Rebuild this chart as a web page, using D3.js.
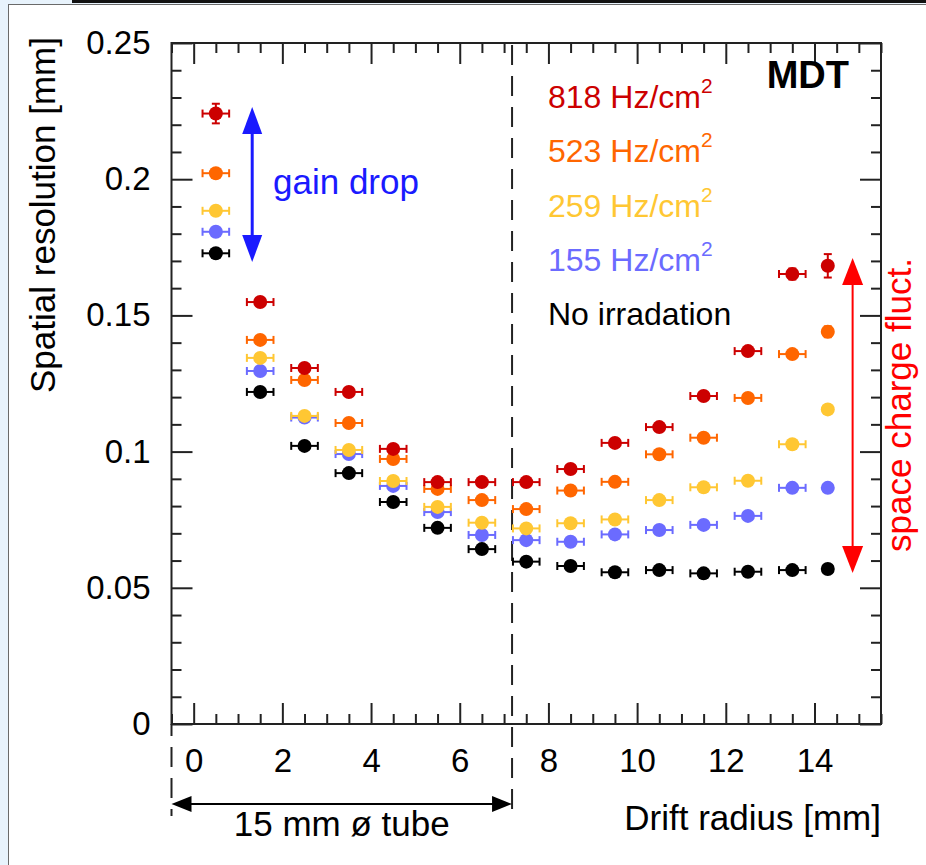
<!DOCTYPE html>
<html>
<head>
<meta charset="utf-8">
<script src="https://cdn.jsdelivr.net/npm/d3@7/dist/d3.min.js"></script>
<style>
  html, body { margin: 0; padding: 0; background: #e8f3fc; }
  svg { display: block; }
</style>
</head>
<body>
<script>
// ---------------- DATA ----------------
const driftRadius = [0.5, 1.5, 2.5, 3.5, 4.5, 5.5, 6.5, 7.5, 8.5, 9.5, 10.5, 11.5, 12.5, 13.5, 14.3];
const radiusHalfWidth = [0.3, 0.3, 0.3, 0.3, 0.3, 0.3, 0.3, 0.3, 0.3, 0.3, 0.3, 0.3, 0.3, 0.3, 0.1];

const res818 = [0.2241, 0.1549, 0.1307, 0.1219, 0.1010, 0.0888, 0.0888, 0.0888, 0.0936, 0.1032, 0.1090, 0.1204, 0.1369, 0.1652, 0.1682];
const err818 = [0.0036, 0.0015, 0.0012, 0.0010, 0.0010, 0.0010, 0.0010, 0.0010, 0.0010, 0.0010, 0.0010, 0.0012, 0.0015, 0.0020, 0.0043];
const res523 = [0.2022, 0.1410, 0.1263, 0.1105, 0.0973, 0.0863, 0.0822, 0.0789, 0.0857, 0.0889, 0.0990, 0.1051, 0.1197, 0.1358, 0.1440];
const err523 = [0.0015, 0.0010, 0.0010, 0.0010, 0.0010, 0.0010, 0.0010, 0.0010, 0.0010, 0.0010, 0.0010, 0.0010, 0.0010, 0.0012, 0.0020];
const res259 = [0.1884, 0.1344, 0.1131, 0.1006, 0.0892, 0.0797, 0.0739, 0.0718, 0.0737, 0.0751, 0.0822, 0.0869, 0.0893, 0.1027, 0.1155];
const err259 = [0.0010, 0.0010, 0.0010, 0.0010, 0.0010, 0.0010, 0.0010, 0.0010, 0.0010, 0.0010, 0.0010, 0.0010, 0.0010, 0.0010, 0.0010];
const res155 = [0.1807, 0.1296, 0.1125, 0.0991, 0.0874, 0.0778, 0.0694, 0.0675, 0.0669, 0.0696, 0.0712, 0.0731, 0.0764, 0.0867, 0.0867];
const err155 = [0.0010, 0.0010, 0.0010, 0.0010, 0.0010, 0.0010, 0.0010, 0.0010, 0.0010, 0.0010, 0.0010, 0.0010, 0.0010, 0.0010, 0.0010];
const res0   = [0.1728, 0.1219, 0.1021, 0.0921, 0.0815, 0.0720, 0.0642, 0.0596, 0.0580, 0.0557, 0.0565, 0.0553, 0.0559, 0.0565, 0.0569];
const err0   = [0.0010, 0.0010, 0.0010, 0.0010, 0.0010, 0.0010, 0.0010, 0.0010, 0.0010, 0.0010, 0.0010, 0.0010, 0.0010, 0.0010, 0.0010];

const legendLabels = ["818 Hz/cm", "523 Hz/cm", "259 Hz/cm", "155 Hz/cm", "No irradation"];
const legendSup    = ["2", "2", "2", "2", ""];
const seriesColors = ["#cc0000", "#ff6600", "#ffc733", "#6b6bff", "#000000"];

const xTickValues = [0, 2, 4, 6, 8, 10, 12, 14];
const xTickLabels = ["0", "2", "4", "6", "8", "10", "12", "14"];
const yTickValues = [0, 0.05, 0.1, 0.15, 0.2, 0.25];
const yTickLabels = ["0", "0.05", "0.1", "0.15", "0.2", "0.25"];

const tubeRadius = 7.18;

// ---------------- LAYOUT ----------------
const W = 926, H = 865;
const FX0 = 171.5, FX1 = 881, FY0 = 43, FY1 = 724;
const FONT = "'Liberation Sans', Arial, Helvetica, sans-serif";

const svg = d3.select("body").append("svg").attr("width", W).attr("height", H);

// page decoration
svg.append("rect").attr("x", 8.5).attr("y", 4.5).attr("width", W).attr("height", H)
  .attr("fill", "#ffffff").attr("stroke", "#6a6a6a").attr("stroke-width", 1);
svg.append("rect").attr("x", 72).attr("y", 0).attr("width", W - 72).attr("height", 3).attr("fill", "#111");

const x = d3.scaleLinear().domain([-0.5, 15.5]).range([FX0, FX1]);
const y = d3.scaleLinear().domain([0, 0.25]).range([FY1, FY0]);

const xMinor = d3.range(-0.5, 15.51, 0.5).filter(v => !xTickValues.includes(v));
const yMinor = d3.range(0, 0.2501, 0.01).map(v => +v.toFixed(2)).filter(v => !yTickValues.some(t => Math.abs(t - v) < 1e-6));

function styleAxis(g) {
  g.select(".domain").remove();
  g.selectAll(".tick line").attr("stroke", "#222").attr("stroke-width", 2);
  g.selectAll(".tick text").attr("fill", "#000").attr("font-family", FONT).attr("font-size", 33);
}

// bottom
svg.append("g").attr("transform", `translate(0,${FY1})`)
  .call(d3.axisBottom(x).tickValues(xTickValues).tickFormat((d, i) => xTickLabels[i]).tickSizeInner(-21).tickSizeOuter(0).tickPadding(25))
  .call(styleAxis);
svg.append("g").attr("transform", `translate(0,${FY1})`)
  .call(d3.axisBottom(x).tickValues(xMinor).tickFormat("").tickSizeInner(-10).tickSizeOuter(0))
  .call(styleAxis);
// top
svg.append("g").attr("transform", `translate(0,${FY0})`)
  .call(d3.axisTop(x).tickValues(xTickValues).tickFormat("").tickSizeInner(-21).tickSizeOuter(0))
  .call(styleAxis);
svg.append("g").attr("transform", `translate(0,${FY0})`)
  .call(d3.axisTop(x).tickValues(xMinor).tickFormat("").tickSizeInner(-10).tickSizeOuter(0))
  .call(styleAxis);
// left
svg.append("g").attr("transform", `translate(${FX0},0)`)
  .call(d3.axisLeft(y).tickValues(yTickValues).tickFormat((d, i) => yTickLabels[i]).tickSizeInner(-21).tickSizeOuter(0).tickPadding(21))
  .call(styleAxis);
svg.append("g").attr("transform", `translate(${FX0},0)`)
  .call(d3.axisLeft(y).tickValues(yMinor).tickFormat("").tickSizeInner(-10).tickSizeOuter(0))
  .call(styleAxis);
// right
svg.append("g").attr("transform", `translate(${FX1},0)`)
  .call(d3.axisRight(y).tickValues(yTickValues).tickFormat("").tickSizeInner(-21).tickSizeOuter(0))
  .call(styleAxis);
svg.append("g").attr("transform", `translate(${FX1},0)`)
  .call(d3.axisRight(y).tickValues(yMinor).tickFormat("").tickSizeInner(-10).tickSizeOuter(0))
  .call(styleAxis);

// frame
svg.append("rect").attr("x", FX0).attr("y", FY0).attr("width", FX1 - FX0).attr("height", FY1 - FY0)
  .attr("fill", "none").attr("stroke", "#222").attr("stroke-width", 2);

// tube boundary dashed lines
svg.append("line").attr("x1", x(tubeRadius)).attr("x2", x(tubeRadius)).attr("y1", FY0 + 2).attr("y2", 816)
  .attr("stroke", "#222").attr("stroke-width", 2).attr("stroke-dasharray", "20,11");
svg.append("line").attr("x1", x(-0.5)).attr("x2", x(-0.5)).attr("y1", FY1).attr("y2", 816)
  .attr("stroke", "#222").attr("stroke-width", 2).attr("stroke-dasharray", "20,11").attr("stroke-dashoffset", 8);

// arrow helper (double headed)
function doubleArrow(x1, y1, x2, y2, color, lw, headLen, headHalf) {
  const g = svg.append("g");
  const dx = x2 - x1, dy = y2 - y1, L = Math.hypot(dx, dy);
  const ux = dx / L, uy = dy / L, px = -uy, py = ux;
  g.append("line").attr("x1", x1 + ux * headLen * 0.8).attr("y1", y1 + uy * headLen * 0.8)
    .attr("x2", x2 - ux * headLen * 0.8).attr("y2", y2 - uy * headLen * 0.8)
    .attr("stroke", color).attr("stroke-width", lw);
  const head = (tx, ty, sx, sy) => {
    const bx = tx + sx * headLen, by = ty + sy * headLen;
    return `M${tx},${ty}L${bx + px * headHalf},${by + py * headHalf}L${bx - px * headHalf},${by - py * headHalf}Z`;
  };
  g.append("path").attr("d", head(x1, y1, ux, uy)).attr("fill", color);
  g.append("path").attr("d", head(x2, y2, -ux, -uy)).attr("fill", color);
}

// tube diameter arrow
doubleArrow(x(-0.5), 804, x(tubeRadius), 804, "#000", 2, 20, 8);
svg.append("text").attr("x", (x(-0.5) + x(tubeRadius)) / 2).attr("y", 836).attr("text-anchor", "middle")
  .attr("font-family", FONT).attr("font-size", 35).attr("fill", "#000").text("15 mm ø tube");

// axis titles
svg.append("text").attr("x", FX1).attr("y", 830).attr("text-anchor", "end")
  .attr("font-family", FONT).attr("font-size", 35).attr("fill", "#000").text("Drift radius [mm]");
svg.append("text").attr("transform", "translate(55,215) rotate(-90)").attr("text-anchor", "middle")
  .attr("font-family", FONT).attr("font-size", 35).attr("fill", "#000").text("Spatial resolution [mm]");

// data series
const seriesData = [res818, res523, res259, res155, res0];
const seriesErr = [err818, err523, err259, err155, err0];
const drawOrder = [4, 3, 2, 1, 0];
const R = 7, CAP = 4;
drawOrder.forEach(si => {
  const color = seriesColors[si];
  const pts = driftRadius.map((r, i) => ({ r, hw: radiusHalfWidth[i], v: seriesData[si][i], e: seriesErr[si][i] }));
  const g = svg.append("g");
  const pg = g.selectAll("g.pt").data(pts).join("g").attr("class", "pt");
  // horizontal error bars
  pg.append("line").attr("x1", d => x(d.r - d.hw)).attr("x2", d => x(d.r + d.hw))
    .attr("y1", d => y(d.v)).attr("y2", d => y(d.v)).attr("stroke", color).attr("stroke-width", 2);
  pg.append("line").attr("x1", d => x(d.r - d.hw)).attr("x2", d => x(d.r - d.hw))
    .attr("y1", d => y(d.v) - CAP).attr("y2", d => y(d.v) + CAP).attr("stroke", color).attr("stroke-width", 2);
  pg.append("line").attr("x1", d => x(d.r + d.hw)).attr("x2", d => x(d.r + d.hw))
    .attr("y1", d => y(d.v) - CAP).attr("y2", d => y(d.v) + CAP).attr("stroke", color).attr("stroke-width", 2);
  // vertical error bars
  pg.append("line").attr("x1", d => x(d.r)).attr("x2", d => x(d.r))
    .attr("y1", d => y(d.v - d.e)).attr("y2", d => y(d.v + d.e)).attr("stroke", color).attr("stroke-width", 2);
  pg.append("line").attr("x1", d => x(d.r) - CAP).attr("x2", d => x(d.r) + CAP)
    .attr("y1", d => y(d.v - d.e)).attr("y2", d => y(d.v - d.e)).attr("stroke", color).attr("stroke-width", 2);
  pg.append("line").attr("x1", d => x(d.r) - CAP).attr("x2", d => x(d.r) + CAP)
    .attr("y1", d => y(d.v + d.e)).attr("y2", d => y(d.v + d.e)).attr("stroke", color).attr("stroke-width", 2);
  pg.append("circle").attr("cx", d => x(d.r)).attr("cy", d => y(d.v)).attr("r", R).attr("fill", color);
});

// legend
legendLabels.forEach((lab, i) => {
  const t = svg.append("text").attr("x", 548).attr("y", 108 + i * 54.3)
    .attr("font-family", FONT).attr("font-size", 32).attr("fill", seriesColors[i]);
  t.append("tspan").text(lab);
  if (legendSup[i]) t.append("tspan").attr("dx", 0).attr("dy", -15).attr("font-size", 21).text(legendSup[i]);
});

// MDT label
svg.append("text").attr("x", 849).attr("y", 88).attr("text-anchor", "end")
  .attr("font-family", FONT).attr("font-size", 38).attr("font-weight", "bold").attr("fill", "#000").text("MDT");

// gain drop annotation
doubleArrow(x(1.32), y(0.2265), x(1.32), y(0.1696), "#1a1aff", 3, 27, 10);
svg.append("text").attr("x", 273).attr("y", 194)
  .attr("font-family", FONT).attr("font-size", 35).attr("fill", "#1a1aff").text("gain drop");

// space charge annotation
doubleArrow(x(14.86), y(0.1711), x(14.86), y(0.0554), "#ff0000", 2, 27, 10.5);
svg.append("text").attr("transform", "translate(911,405) rotate(-90)").attr("text-anchor", "middle")
  .attr("font-family", FONT).attr("font-size", 35).attr("fill", "#ff0000").text("space charge fluct.");
</script>
